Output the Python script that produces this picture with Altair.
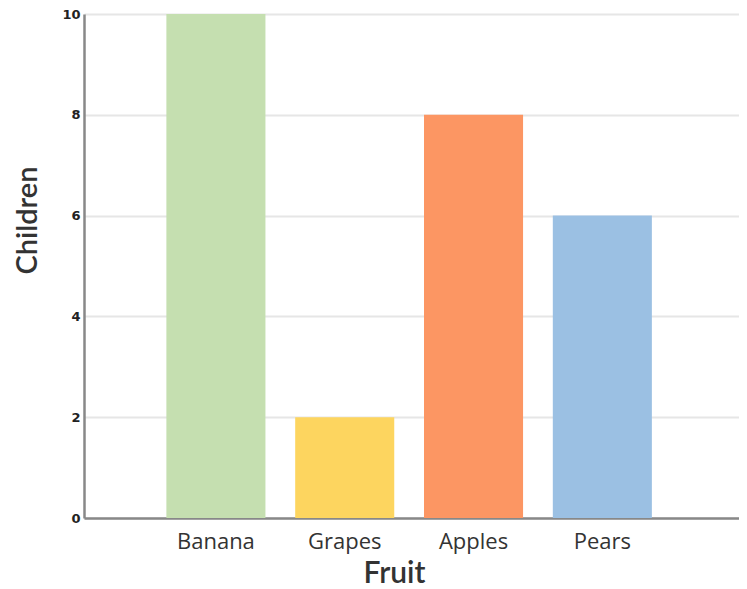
import altair as alt
import pandas as pd

fruits = ["Banana", "Grapes", "Apples", "Pears"]
children = [10, 2, 8, 6]
colors = ["#c5dfb0", "#fdd55f", "#fc9663", "#9bc0e3"]

df = pd.DataFrame({"Fruit": fruits, "Children": children})

chart = alt.Chart(df).mark_bar(opacity=1).encode(
    x=alt.X("Fruit:N", sort=fruits,
            scale=alt.Scale(paddingInner=0.231, paddingOuter=0.658, align=0.486),
            axis=alt.Axis(title="Fruit", labelAngle=0, labelFontSize=22,
                          labelFont="Open Sans", labelColor="#333",
                          labelPadding=13, ticks=False, domainColor="#888",
                          domainWidth=2.5, titleFont="Lato", titleFontSize=30,
                          titleFontWeight=600, titleColor="#333",
                          titleBaseline="alphabetic", titleAlign="center",
                          titleX=310, titleY=64, grid=False)),
    y=alt.Y("Children:Q", scale=alt.Scale(domain=[0, 10]),
            axis=alt.Axis(title="Children", values=[0, 2, 4, 6, 8, 10],
                          labelFontSize=13, labelFontWeight="bold",
                          labelColor="#222", labelFont="DejaVu Sans",
                          labelPadding=4, ticks=False, domainColor="#888",
                          domainWidth=2.5, gridColor="#e6e6e6", gridWidth=2,
                          titleFont="Lato", titleFontSize=29,
                          titleFontWeight=600, titleColor="#333",
                          titleAngle=270, titleBaseline="middle",
                          titleAlign="center", titleX=-57, titleY=206)),
    color=alt.Color("Fruit:N", sort=fruits,
                    scale=alt.Scale(domain=fruits, range=colors), legend=None),
).properties(
    width=655, height=504,
    autosize=alt.AutoSizeParams(type="none"),
    padding={"left": 76, "top": 6, "right": 0, "bottom": 71},
).configure_view(stroke=None)

chart.save("out.html", embed_options={"renderer": "svg", "actions": False})
